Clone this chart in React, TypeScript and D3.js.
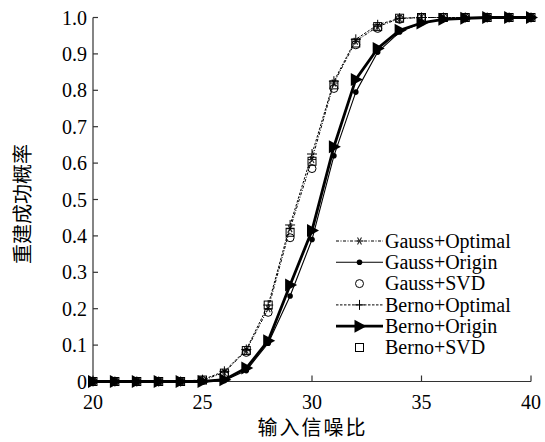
import React from "react";
import * as d3 from "d3";

const snr = [20,21,22,23,24,25,26,27,28,29,30,31,32,33,34,35,36,37,38,39,40];
const gaussOptimal = [0,0,0,0,0,0.003,0.025,0.085,0.2,0.42,0.61,0.82,0.935,0.975,0.997,1,1,1,1,1,1];
const gaussOrigin = [0,0,0,0,0,0,0.003,0.03,0.105,0.235,0.39,0.62,0.795,0.905,0.96,0.985,0.995,0.998,1,1,1];
const gaussSVD = [0,0,0,0,0,0.003,0.02,0.08,0.19,0.395,0.585,0.805,0.925,0.97,0.995,1,1,1,1,1,1];
const bernoOptimal = [0,0,0,0,0,0.005,0.028,0.088,0.21,0.43,0.625,0.825,0.94,0.98,0.998,1,1,1,1,1,1];
const bernoOrigin = [0,0,0,0,0,0,0.005,0.037,0.112,0.265,0.415,0.645,0.83,0.915,0.965,0.985,0.995,0.998,1,1,1];
const bernoSVD = [0,0,0,0,0,0.004,0.023,0.085,0.21,0.41,0.605,0.815,0.93,0.975,0.998,1,1,1,1,1,1];

const xTicks = [20,25,30,35,40];
const yTicks = [0,0.1,0.2,0.3,0.4,0.5,0.6,0.7,0.8,0.9,1.0];
const seriesNames = ["Gauss+Optimal","Gauss+Origin","Gauss+SVD","Berno+Optimal","Berno+Origin","Berno+SVD"];
const xLabel = "输入信噪比";
const yLabel = "重建成功概率";

type Marker = "star" | "dot" | "circle" | "plus" | "tri" | "square";
interface S { name: string; values: number[]; line: boolean; dash?: string; width: number; marker: Marker; }

const series: S[] = [
  { name: seriesNames[0], values: gaussOptimal, line: true, dash: "3,1.5,1,1.5", width: 1, marker: "star" },
  { name: seriesNames[1], values: gaussOrigin, line: true, width: 1.1, marker: "dot" },
  { name: seriesNames[2], values: gaussSVD, line: false, width: 1, marker: "circle" },
  { name: seriesNames[3], values: bernoOptimal, line: true, dash: "2.5,1.5", width: 1, marker: "plus" },
  { name: seriesNames[4], values: bernoOrigin, line: true, width: 2.8, marker: "tri" },
  { name: seriesNames[5], values: bernoSVD, line: false, width: 1, marker: "square" },
];

function MarkerShape({ m, x, y }: { m: Marker; x: number; y: number }) {
  switch (m) {
    case "star":
      return (
        <g stroke="#222" strokeWidth={1.1}>
          <line x1={x - 4} y1={y} x2={x + 4} y2={y} />
          <line x1={x - 2} y1={y - 3.5} x2={x + 2} y2={y + 3.5} />
          <line x1={x - 2} y1={y + 3.5} x2={x + 2} y2={y - 3.5} />
        </g>
      );
    case "dot":
      return <circle cx={x} cy={y} r={2.8} fill="#000" />;
    case "circle":
      return <circle cx={x} cy={y} r={4} fill="none" stroke="#000" strokeWidth={1} />;
    case "plus":
      return (
        <g stroke="#000" strokeWidth={1}>
          <line x1={x - 5} y1={y} x2={x + 5} y2={y} />
          <line x1={x} y1={y - 5} x2={x} y2={y + 5} />
        </g>
      );
    case "tri":
      return <path d={`M${x - 5},${y - 6.5}L${x + 7},${y}L${x - 5},${y + 6.5}Z`} fill="#000" />;
    case "square":
      return <rect x={x - 4} y={y - 4} width={8} height={8} fill="none" stroke="#000" strokeWidth={1} />;
  }
  return null;
}

export default function App() {
  const W = 545, H = 442;
  const x = d3.scaleLinear().domain([20, 40]).range([93, 531]);
  const y = d3.scaleLinear().domain([0, 1]).range([381.5, 17.5]);
  const font = "'Liberation Serif', 'Times New Roman', serif";
  const cjk = "'Noto Sans CJK SC', sans-serif";

  const lineGen = (vals: number[]) =>
    d3.line<number>().x((_, i) => x(snr[i])).y((v) => y(v))(vals) || "";

  const legendX = 336, legendLineEnd = 383, legendTextX = 385;
  const legendY0 = 241, legendDy = 21.3;

  return (
    <svg width={W} height={H} style={{ position: "absolute", left: 0, top: 0, background: "#fff" }}>
      {/* axes */}
      <line x1={x(20)} y1={y(0)} x2={x(40)} y2={y(0)} stroke="#333" strokeWidth={1.2} />
      <line x1={x(20)} y1={y(0)} x2={x(20)} y2={y(1)} stroke="#333" strokeWidth={1.2} />
      {xTicks.map((t) => (
        <g key={"xt" + t}>
          <line x1={x(t)} y1={y(0)} x2={x(t)} y2={y(0) - 6} stroke="#333" strokeWidth={1.2} />
          <text x={x(t)} y={408.5} textAnchor="middle" fontFamily={font} fontSize={20} fill="#000">{t}</text>
        </g>
      ))}
      {yTicks.map((t) => (
        <g key={"yt" + t}>
          <line x1={x(20)} y1={y(t)} x2={x(20) + 5} y2={y(t)} stroke="#333" strokeWidth={1.2} />
          <text x={87} y={y(t)} dy="0.35em" textAnchor="end" fontFamily={font} fontSize={20} fill="#000">
            {t === 0 ? "0" : d3.format(".1f")(t)}
          </text>
        </g>
      ))}
      <text x={312.5} y={435} textAnchor="middle" fontFamily={cjk} fontSize={20} letterSpacing={2} fill="#000">{xLabel}</text>
      <text transform="translate(30,204) rotate(-90)" textAnchor="middle" fontFamily={cjk} fontSize={20} fill="#000">{yLabel}</text>

      {/* lines */}
      {series.filter((s) => s.line).map((s) => (
        <path key={"l" + s.name} d={lineGen(s.values)} fill="none" stroke="#000" strokeWidth={s.width}
          strokeDasharray={s.dash} strokeLinejoin="round" />
      ))}
      {/* markers */}
      {series.map((s) => (
        <g key={"m" + s.name}>
          {s.values.map((v, i) => (
            <MarkerShape key={i} m={s.marker} x={x(snr[i])} y={y(v)} />
          ))}
        </g>
      ))}

      {/* legend */}
      {series.map((s, i) => {
        const ly = legendY0 + i * legendDy;
        return (
          <g key={"lg" + s.name}>
            {s.line && (
              <line x1={legendX} y1={ly} x2={legendLineEnd} y2={ly} stroke="#000" strokeWidth={s.width}
                strokeDasharray={s.dash} />
            )}
            <MarkerShape m={s.marker} x={(legendX + legendLineEnd) / 2} y={ly} />
            <text x={legendTextX} y={ly} dy="0.33em" fontFamily={font} fontSize={20} fill="#000">{s.name}</text>
          </g>
        );
      })}
    </svg>
  );
}
